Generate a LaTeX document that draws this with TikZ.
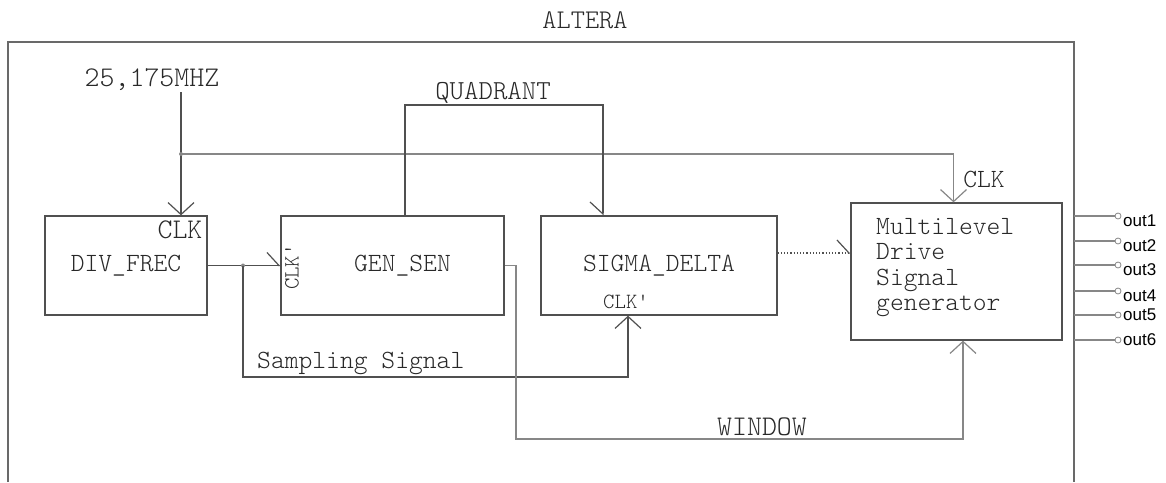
\documentclass[tikz,border=0pt]{standalone}
\usepackage{fontspec}
\usepackage{tikz}
\usetikzlibrary{arrows.meta,positioning,calc}
\newfontfamily\courfont{Latin Modern Mono Light}
\newfontfamily\arialfont{Liberation Sans}
\definecolor{wiregray}{RGB}{80,80,80}
\definecolor{framegray}{RGB}{105,105,105}
\definecolor{lightwire}{RGB}{135,135,135}
\definecolor{txtgray}{RGB}{40,40,40}
\tikzset{
  blk/.style={draw=wiregray, line width=1.3pt, inner sep=0pt, font=\courfont\fontsize{26.3}{28}\selectfont, text=txtgray},
  lbl/.style={inner sep=0pt, font=\courfont\fontsize{26.3}{28}\selectfont, text=txtgray},
  smalllbl/.style={inner sep=0pt, font=\courfont\fontsize{21.7}{23}\selectfont, text=txtgray},
  wire/.style={draw=wiregray, line width=1.2pt},
  barb/.style={-{Straight Barb[length=12pt,width=26pt]}},
  halfbarbL/.style={-{Straight Barb[length=12pt,width=26pt,left]}},
  halfbarbR/.style={-{Straight Barb[length=12pt,width=26pt,right]}},
  joint/.style={circle, fill=lightwire, inner sep=0pt, minimum size=4pt},
  pinc/.style={circle, draw=lightwire, line width=0.8pt, inner sep=0pt, minimum size=6pt},
  outlbl/.style={inner sep=0pt, font=\arialfont\fontsize{17}{19}\selectfont, text=black}
}
\begin{document}
\begin{tikzpicture}[x=1pt, y=-1pt]
\useasboundingbox (0,0) rectangle (1166,482);

% frame of the chip
\node[lbl, font=\courfont\fontsize{27}{29}\selectfont] (altera) at (585,20) {ALTERA};
\draw[draw=framegray, line width=1.5pt] (8,482) -- (8,42) -- (1074,42) -- (1074,482);

% blocks
\node[blk, minimum width=162pt, minimum height=99pt] (div) at (126,265.5) {DIV\_FREC};
\node[blk, minimum width=223pt, minimum height=99pt] (gen) at (392.5,265.5) {\hspace*{20pt}GEN\_SEN};
\node[blk, minimum width=236pt, minimum height=99pt] (sd) at (659,265.5) {SIGMA\_DELTA};
\node[blk, minimum width=211pt, minimum height=137pt] (mdsg) at (956.5,271.5) {};
\node[lbl, anchor=west, align=left, font=\courfont\fontsize{26.3}{25.3}\selectfont] (mdsgtxt) at (876,267.5) {Multilevel\\Drive\\Signal\\generator};

% pin labels
\node[lbl, font=\courfont\fontsize{28.5}{30}\selectfont] (clkdiv) at (180,230) {CLK};
\node[smalllbl, rotate=90] (clkgen) at (292,267) {CLK'};
\node[smalllbl] (clksd) at (626,302) {CLK'};
\node[lbl] (clkmd) at (984,179) {CLK};

% clock input
\node[lbl, font=\courfont\fontsize{28.5}{30}\selectfont] (mhz) at (152,80) {25,175MHZ};
\coordinate (src) at (181,92);
\coordinate (tap) at (181,154);
\draw[wire, barb] (src) -- (src |- div.north);
\draw[wire, draw=lightwire, barb] (tap) -| ($(mdsg.north)+(-3,0)$);
\node[joint] (tapdot) at (tap) {};

% divider to generator, sampling signal
\coordinate (split) at (243,265.5);
\coordinate (sampR) at (628,377);
\draw[wire, halfbarbL] (div.east) -- (gen.west);
\node[joint] (splitdot) at (split) {};
\draw[wire, barb] (split) |- (sampR) -- (sampR |- sd.south);
\node[lbl, anchor=south west] (samp) at (257,375) {Sampling Signal};

% quadrant
\coordinate (qL) at (405,105);
\coordinate (qR) at (603,105);
\draw[wire, halfbarbR] (qL |- gen.north) -- (qL) -- (qR) -- (qR |- sd.north);
\node[lbl, font=\courfont\fontsize{27.5}{29}\selectfont] (quad) at (493,93) {QUADRANT};

% window
\coordinate (wL) at (516,439);
\coordinate (wR) at (963,439);
\draw[wire, draw=lightwire, barb] (gen.east) -| (wL) -- (wR) -- (wR |- mdsg.south);
\node[lbl, font=\courfont\fontsize{28.5}{30}\selectfont, anchor=south] (win) at (762,436) {WINDOW};

% sigma delta to driver
\coordinate (dq) at (800,253);
\draw[wire, dotted, halfbarbL] (sd.east |- dq) -- (mdsg.west |- dq);

% outputs
\foreach \k/\yy/\dy in {1/216/5, 2/241/5, 3/265/5, 4/291/5, 5/315/0, 6/340/0} {
  \coordinate (edge\k) at (1074,\yy);
  \node[pinc] (pin\k) at (1118,\yy) {};
  \draw[draw=lightwire, line width=1.1pt] (edge\k) -- (pin\k);
  \node[outlbl, anchor=west] (out\k) at (1123,\yy+\dy) {out\k};
}
\end{tikzpicture}
\end{document}
